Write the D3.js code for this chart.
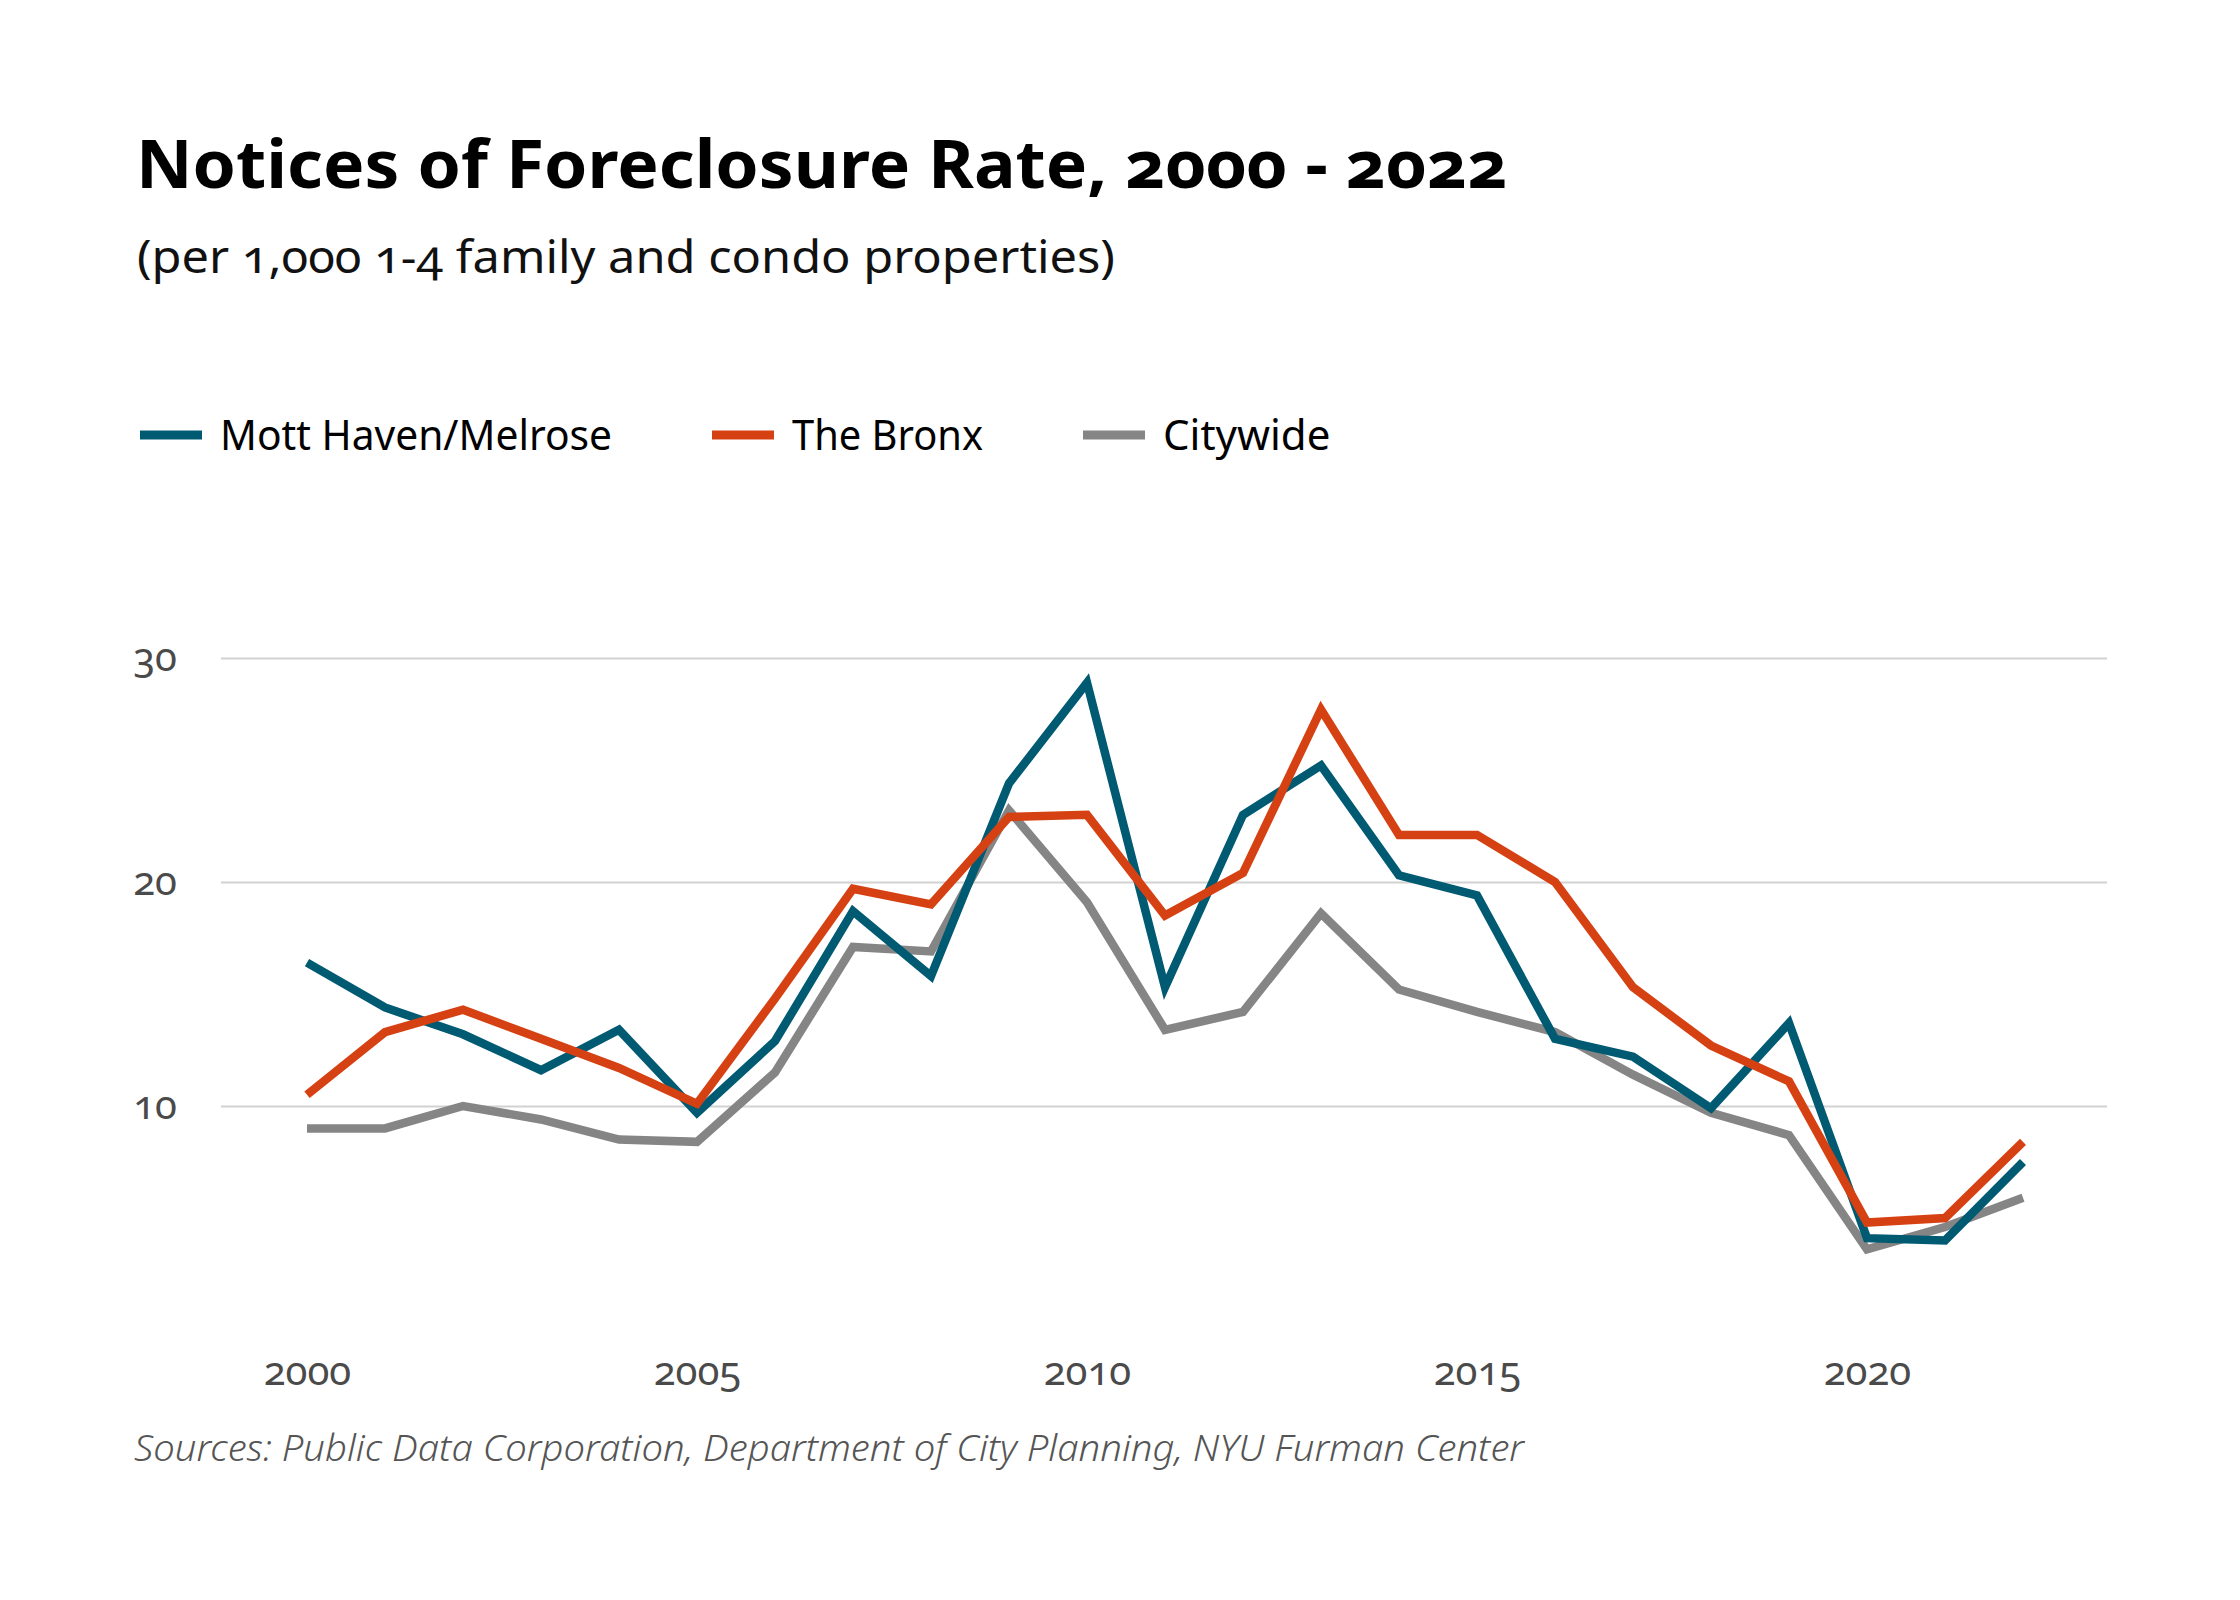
<!DOCTYPE html>
<html>
<head>
<meta charset="utf-8">
<script src="https://cdn.jsdelivr.net/npm/d3@7"></script>
<style>
  body { margin: 0; background: #fff; }
  svg text { font-family: "Noto Sans", "Open Sans", sans-serif; font-variant-numeric: oldstyle-nums; font-feature-settings: "onum" 1; }
</style>
</head>
<body>
<svg id="chart" width="2240" height="1600"></svg>
<script>
// values
const years = d3.range(2000, 2023);
const mottHaven = [16.4, 14.4, 13.2, 11.6, 13.4, 9.7, 12.9, 18.7, 15.8, 24.4, 28.9, 15.3,
                   23.0, 25.2, 20.3, 19.4, 13.0, 12.2, 9.9, 13.7, 4.1, 4.0, 7.5];
const bronx = [10.5, 13.3, 14.3, 13.0, 11.7, 10.1, 14.8, 19.7, 19.0, 22.9, 23.0, 18.5,
               20.4, 27.7, 22.1, 22.1, 20.0, 15.3, 12.7, 11.1, 4.8, 5.0, 8.4];
const citywide = [9.0, 9.0, 10.0, 9.4, 8.5, 8.4, 11.5, 17.1, 16.9, 23.2, 19.1, 13.4,
                  14.2, 18.6, 15.2, 14.2, 13.3, 11.4, 9.7, 8.7, 3.6, 4.6, 5.9];
const seriesNames = ['Mott Haven/Melrose', 'The Bronx', 'Citywide'];
const seriesColors = ['#005a72', '#d64113', '#858585'];
const yTicks = [10, 20, 30];
const xTicks = [2000, 2005, 2010, 2015, 2020];

const svg = d3.select('#chart');
svg.append('rect').attr('width', 2240).attr('height', 1600).attr('fill', '#fff');

// stretch/squeeze a text node to a measured width
function fitWidth(sel, w) {
    const n = sel.node();
    const cur = n.getComputedTextLength();
    if (Math.abs(cur - w) > 4) {
        sel.attr('textLength', w).attr('lengthAdjust', 'spacingAndGlyphs');
    }
    return sel;
}

// titles
fitWidth(svg.append('text')
    .attr('x', 136).attr('y', 188)
    .attr('font-size', 66).attr('font-weight', 700).attr('fill', '#000')
    .text('Notices of Foreclosure Rate, 2000 - 2022'), 1372);

fitWidth(svg.append('text')
    .attr('x', 137).attr('y', 273)
    .attr('font-size', 45).attr('fill', '#111')
    .text('(per 1,000 1-4 family and condo properties)'), 978);

// legend
const legendWidths = [392, 191, 168];
let lx = 140;
seriesNames.forEach((name, i) => {
    svg.append('rect')
        .attr('x', lx).attr('y', 430.5).attr('width', 62).attr('height', 9)
        .attr('fill', seriesColors[i]);
    fitWidth(svg.append('text')
        .attr('x', lx + 80).attr('y', 450)
        .attr('font-size', 42).attr('fill', '#000')
        .text(name), legendWidths[i]);
    lx += 80 + legendWidths[i] + 100;
});

// scales
const x = d3.scaleLinear().domain([2000, 2022]).range([307, 2023]);
const y = d3.scaleLinear().domain([0, 30]).range([1330, 658]);

const gridLeft = 221, gridRight = 2107;

const yAxis = svg.append('g')
    .attr('transform', `translate(${gridLeft},0)`)
    .call(d3.axisLeft(y).tickValues(yTicks).tickSize(-(gridRight - gridLeft)).tickPadding(44).tickFormat(d3.format('d')));
yAxis.select('.domain').remove();
yAxis.selectAll('line').attr('stroke', '#d2d2d2').attr('stroke-width', 2);
yAxis.selectAll('text')
    .attr('font-size', 40).attr('fill', '#4a4a4a').attr('dy', '0.3em');

const xAxis = svg.append('g')
    .attr('transform', 'translate(0,1345)')
    .call(d3.axisBottom(x).tickValues(xTicks).tickSize(0).tickFormat(d3.format('d')));
xAxis.select('.domain').remove();
xAxis.selectAll('text')
    .attr('y', 40).attr('dy', 0)
    .attr('font-size', 40).attr('fill', '#4a4a4a');
svg.selectAll('.tick text').attr('font-family', null);

// lines
const line = d3.line().x((d, i) => x(years[i])).y(d => y(d));
[citywide, mottHaven, bronx].forEach((vals, k) => {
    const idx = [2, 0, 1][k];
    svg.append('path')
        .datum(vals)
        .attr('d', line)
        .attr('fill', 'none')
        .attr('stroke', seriesColors[idx])
        .attr('stroke-width', 8.5)
        .attr('stroke-linejoin', 'miter')
        .attr('stroke-linecap', 'butt');
});

// source note
fitWidth(svg.append('text')
    .attr('x', 134).attr('y', 1461)
    .attr('font-size', 37).attr('font-style', 'italic').attr('font-weight', 300).attr('fill', '#555')
    .text('Sources: Public Data Corporation, Department of City Planning, NYU Furman Center'), 1390);
</script>
</body>
</html>
